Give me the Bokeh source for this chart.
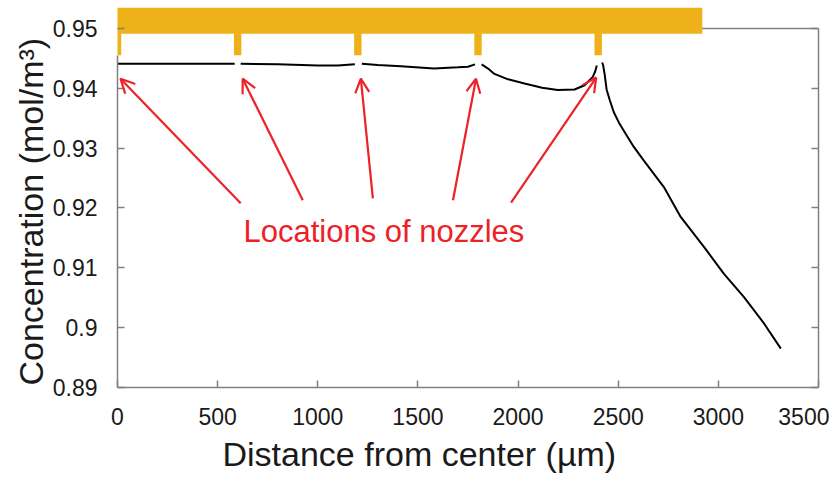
from bokeh.plotting import figure
from bokeh.models import (Range1d, FixedTicker, LinearAxis, Span, Arrow, OpenHead,
                          ColumnDataSource, Label, Title)
from bokeh.embed import file_html
from bokeh.resources import INLINE

# ---- data ----
nan = float("nan")
# concentration profile (segments separated by gaps at the nozzles)
dist = [0, 200, 400, 585, nan,
        615, 800, 1000, 1100, 1185, nan,
        1220, 1300, 1415, 1580, 1700, 1750, 1785, nan,
        1818, 1850, 1882, 1950, 2032, 2120, 2198, 2282, 2332, 2373, 2385, 2393, nan,
        2420, 2425, 2432, 2442, 2458, 2478, 2503, 2537, 2578, 2628, 2678, 2728,
        2812, 2928, 3028, 3128, 3228, 3312]
conc = [0.9441, 0.9441, 0.9441, 0.9441, nan,
        0.9441, 0.9440, 0.9438, 0.9438, 0.9440, nan,
        0.9441, 0.9439, 0.9437, 0.9433, 0.9435, 0.9436, 0.9440, nan,
        0.9440, 0.9433, 0.9424, 0.9415, 0.9408, 0.9401, 0.9397, 0.9398, 0.9405, 0.9419, 0.9428, 0.9438, nan,
        0.9443, 0.9438, 0.9424, 0.9398, 0.9380, 0.9360, 0.9343, 0.9324, 0.9302, 0.9279, 0.9257, 0.9235,
        0.9185, 0.9135, 0.9090, 0.9051, 0.9007, 0.8965]

nozzles = [0, 600, 1200, 1800, 2400]
manifold_start = -20
manifold_end = 2920

x_ticks = [0, 500, 1000, 1500, 2000, 2500, 3000, 3500]
y_ticks = [0.89, 0.90, 0.91, 0.92, 0.93, 0.94, 0.95]
y_tick_labels = ["0.89", "0.9", "0.91", "0.92", "0.93", "0.94", "0.95"]

x_title = "Distance from center (\u00b5m)"
y_title = "Concentration (mol/m\u00b3)"
annot_text = "Locations of nozzles"
arrow_x0 = [615, 925, 1275, 1675, 1965]
arrow_y0 = [0.9208, 0.9213, 0.9216, 0.9213, 0.9209]
arrow_x1 = [15, 625, 1215, 1790, 2390]
arrow_y1 = [0.9416, 0.9416, 0.9416, 0.9416, 0.9418]

# ---- styling ----
FONT = "Liberation Sans"
RED = "#ec2227"
GOLD = "#eeb119"
AXIS = "#808080"
TXT = "#1a1a1a"

p = figure(width=829, height=479, output_backend="svg", toolbar_location=None,
           x_range=Range1d(0, 3500), y_range=Range1d(0.89, 0.9535),
           min_border_left=117, min_border_right=11, min_border_top=7,
           min_border_bottom=92)
p.outline_line_color = None
p.grid.visible = False

# top border of box (under the manifold bar)
p.add_layout(Span(location=0.95, dimension="width", line_color=AXIS,
                  line_width=1.5, level="underlay"))

# manifold bar and nozzle stubs
p.quad(left=[manifold_start], right=[manifold_end], bottom=[0.9491], top=[0.9535],
       fill_color=GOLD, line_color=None)
p.rect(x=nozzles, y=[0.94735] * len(nozzles), width=37, height=0.0037,
       fill_color=GOLD, line_color=None)

# concentration curve
p.line(dist, conc, line_color="black", line_width=2)

# axes
xa = p.xaxis[0]
ya = p.yaxis[0]
xa.ticker = FixedTicker(ticks=x_ticks)
ya.ticker = FixedTicker(ticks=y_ticks)
ya.major_label_overrides = {v: s for v, s in zip(y_ticks, y_tick_labels)}
ya.bounds = (0.89, 0.9455)
for ax in (xa, ya):
    ax.axis_line_color = AXIS
    ax.axis_line_width = 1.5
    ax.major_tick_line_color = AXIS
    ax.major_tick_line_width = 1.5
    ax.major_tick_in = 7
    ax.major_tick_out = 0
    ax.minor_tick_line_color = None
    ax.major_label_text_font = FONT
    ax.major_label_text_font_size = "23px"
    ax.major_label_text_color = TXT
xa.major_label_standoff = 20
ya.major_label_standoff = 20

ra = LinearAxis(ticker=FixedTicker(ticks=y_ticks), bounds=(0.89, 0.95))
ra.axis_line_color = AXIS
ra.axis_line_width = 1.5
ra.major_tick_line_color = AXIS
ra.major_tick_line_width = 1.5
ra.major_tick_in = 7
ra.major_tick_out = 0
ra.minor_tick_line_color = None
ra.major_label_overrides = {v: "" for v in y_ticks}
ra.major_label_standoff = 0
p.add_layout(ra, "right")

# axis titles (offset like in the reference)
p.add_layout(Title(text=x_title, align="left", offset=105, standoff=11,
                   text_font=FONT, text_font_size="34px", text_font_style="normal",
                   text_color=TXT), "below")
p.add_layout(Title(text=y_title, align="left", offset=2, standoff=0,
                   text_font=FONT, text_font_size="34px", text_font_style="normal",
                   text_color=TXT), "left")

# annotation
src = ColumnDataSource(dict(x0=arrow_x0, y0=arrow_y0, x1=arrow_x1, y1=arrow_y1))
p.add_layout(Arrow(end=OpenHead(size=14, line_color=RED, line_width=2.2),
                   x_start="x0", y_start="y0", x_end="x1", y_end="y1",
                   line_color=RED, line_width=2.2, source=src))
p.add_layout(Label(x=1330, y=0.9161, text=annot_text, text_font=FONT,
                   text_font_size="31px", text_color=RED, text_align="center",
                   text_baseline="alphabetic"))

open("out.html", "w").write(file_html(p, INLINE))
